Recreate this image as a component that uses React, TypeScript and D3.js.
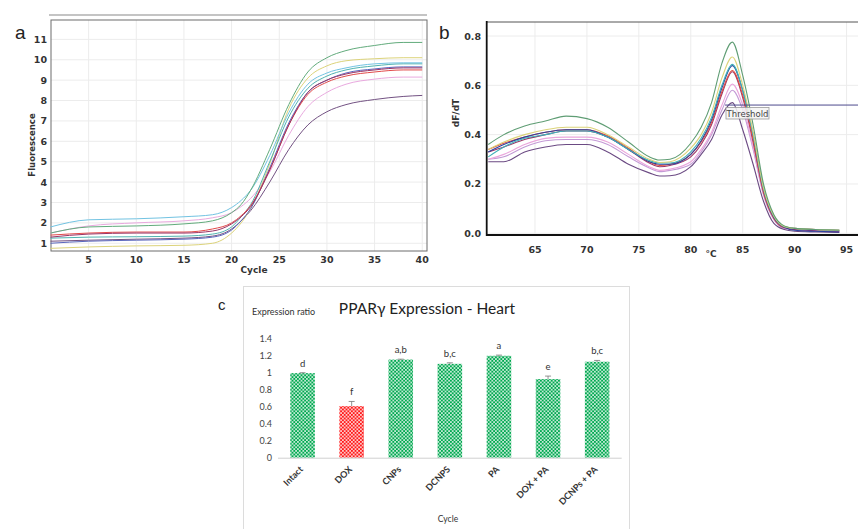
import * as React from "react";
import * as d3 from "d3";

// panel a: amplification curves
const cycles = [1, 5, 10, 15, 18, 20, 21, 22, 24, 26, 28, 30, 32, 35, 38, 40];
const ampGreen = [1.5, 1.8, 1.85, 1.95, 2.1, 2.5, 2.9, 3.6, 5.6, 7.8, 9.4, 10.1, 10.45, 10.7, 10.85, 10.85];
const ampYellow = [0.75, 0.82, 0.87, 0.9, 1.0, 1.5, 2.0, 2.7, 4.9, 7.6, 9.1, 9.7, 9.95, 10.05, 10.1, 10.1];
const ampLightBlue = [1.8, 2.15, 2.2, 2.3, 2.4, 2.75, 3.1, 3.6, 5.3, 7.4, 8.8, 9.35, 9.6, 9.8, 9.85, 9.85];
const ampTeal = [1.25, 1.3, 1.32, 1.35, 1.45, 1.8, 2.3, 2.9, 5.0, 7.2, 8.6, 9.2, 9.5, 9.7, 9.8, 9.8];
const ampBlue = [1.0, 1.1, 1.15, 1.2, 1.3, 1.65, 2.1, 2.7, 4.7, 6.9, 8.4, 9.0, 9.35, 9.55, 9.65, 9.65];
const ampMagenta = [1.3, 1.45, 1.5, 1.5, 1.6, 1.95, 2.3, 2.8, 4.6, 6.8, 8.4, 9.0, 9.3, 9.5, 9.6, 9.6];
const ampRed = [1.4, 1.5, 1.55, 1.55, 1.7, 2.0, 2.35, 2.85, 4.6, 6.8, 8.3, 8.9, 9.2, 9.4, 9.5, 9.5];
const ampPink = [1.5, 1.85, 2.0, 2.1, 2.25, 2.5, 2.8, 3.2, 4.5, 6.3, 7.7, 8.4, 8.8, 9.05, 9.15, 9.15];
const ampPurple = [1.1, 1.15, 1.2, 1.25, 1.35, 1.7, 2.1, 2.6, 4.0, 5.6, 6.8, 7.45, 7.8, 8.05, 8.2, 8.25];
const ampTicksX = [5, 10, 15, 20, 25, 30, 35, 40];
const ampTicksY = [1, 2, 3, 4, 5, 6, 7, 8, 9, 10, 11];

// panel b: melt curves
const temps = [60.5, 62, 64, 66, 68, 70, 72, 74, 76, 77, 78, 80, 81, 82, 83, 84, 85, 86, 87, 88, 89, 90, 92, 94.3];
const meltGreen = [0.36, 0.4, 0.435, 0.455, 0.475, 0.465, 0.43, 0.37, 0.31, 0.297, 0.3, 0.365, 0.43, 0.53, 0.69, 0.775, 0.64, 0.44, 0.2, 0.075, 0.03, 0.02, 0.015, 0.012];
const meltYellow = [0.34, 0.37, 0.4, 0.42, 0.43, 0.43, 0.4, 0.35, 0.3, 0.287, 0.29, 0.345, 0.4, 0.49, 0.63, 0.715, 0.6, 0.41, 0.185, 0.07, 0.028, 0.02, 0.015, 0.012];
const meltTeal = [0.31, 0.35, 0.385, 0.4, 0.415, 0.415, 0.39, 0.34, 0.295, 0.285, 0.285, 0.33, 0.385, 0.47, 0.6, 0.685, 0.58, 0.4, 0.18, 0.068, 0.027, 0.02, 0.015, 0.012];
const meltBlue = [0.33, 0.36, 0.39, 0.41, 0.42, 0.42, 0.39, 0.34, 0.29, 0.28, 0.28, 0.32, 0.375, 0.46, 0.59, 0.68, 0.58, 0.4, 0.18, 0.065, 0.025, 0.012, 0.008, 0.005];
const meltRed = [0.34, 0.365, 0.39, 0.41, 0.42, 0.42, 0.395, 0.345, 0.29, 0.275, 0.28, 0.32, 0.37, 0.45, 0.575, 0.66, 0.56, 0.38, 0.17, 0.062, 0.025, 0.02, 0.015, 0.012];
const meltMagenta = [0.33, 0.35, 0.38, 0.4, 0.415, 0.415, 0.39, 0.34, 0.285, 0.27, 0.275, 0.31, 0.36, 0.44, 0.565, 0.655, 0.55, 0.37, 0.165, 0.06, 0.022, 0.015, 0.01, 0.008];
const meltPink = [0.3, 0.32, 0.36, 0.385, 0.39, 0.39, 0.37, 0.32, 0.27, 0.255, 0.26, 0.29, 0.34, 0.41, 0.52, 0.605, 0.52, 0.35, 0.16, 0.058, 0.022, 0.015, 0.01, 0.008];
const meltLilac = [0.3, 0.31, 0.35, 0.375, 0.38, 0.38, 0.36, 0.31, 0.265, 0.25, 0.255, 0.28, 0.33, 0.4, 0.5, 0.58, 0.5, 0.34, 0.155, 0.055, 0.02, 0.015, 0.01, 0.008];
const meltPurple = [0.29, 0.29, 0.33, 0.35, 0.36, 0.36, 0.33, 0.28, 0.245, 0.232, 0.233, 0.27, 0.32, 0.38, 0.48, 0.53, 0.42, 0.28, 0.13, 0.04, 0.015, 0.008, 0.005, 0.003];
const meltTicksX = [65, 70, 75, 80, 85, 90, 95];
const meltTicksY = [0, 0.2, 0.4, 0.6, 0.8];
const threshold = 0.52;

// panel c: expression ratio
const groups = ["Intact", "DOX", "CNPs", "DCNPS", "PA", "DOX + PA", "DCNPs + PA"];
const ratios = [1.0, 0.61, 1.16, 1.11, 1.205, 0.93, 1.135];
const ratioErr = [0.005, 0.055, 0.005, 0.012, 0.008, 0.035, 0.015];
const sigLetters = ["d", "f", "a,b", "b,c", "a", "e", "b,c"];
const ratioTicks = [0, 0.2, 0.4, 0.6, 0.8, 1, 1.2, 1.4];

const ampSeries = [
  { v: ampPink, c: "#e9a9df" },
  { v: ampPurple, c: "#735283" },
  { v: ampYellow, c: "#dcd37a" },
  { v: ampTeal, c: "#4fb3b0" },
  { v: ampBlue, c: "#5a67bd" },
  { v: ampRed, c: "#e24a4a" },
  { v: ampMagenta, c: "#9a3466" },
  { v: ampLightBlue, c: "#72c3e2" },
  { v: ampGreen, c: "#62ab7c" },
];

const meltSeries = [
  { v: meltLilac, c: "#c49ad6" },
  { v: meltPink, c: "#eaa6dc" },
  { v: meltPurple, c: "#6b4a83" },
  { v: meltMagenta, c: "#9a3466" },
  { v: meltRed, c: "#df4d3e" },
  { v: meltBlue, c: "#2c43a0" },
  { v: meltTeal, c: "#3fb0b8" },
  { v: meltYellow, c: "#dcd37a" },
  { v: meltGreen, c: "#5f9d74" },
];

const tickFont = "'DejaVu Sans', Verdana, sans-serif";
const cFont = "Lato, 'Open Sans', sans-serif";

function PanelA() {
  const x = d3.scaleLinear().domain([1, 40.5]).range([50.5, 427]);
  const y = d3.scaleLinear().domain([0.62, 11.95]).range([251, 20]);
  const line = d3.line<number>().x((_, i) => x(cycles[i])).y(d => y(d)).curve(d3.curveMonotoneX);
  return (
    <g>
      <line x1={49} x2={427} y1={15} y2={15} stroke="#c4c4c4" strokeWidth={2} />
      {ampTicksX.map(t => (
        <line key={"gx" + t} x1={x(t)} x2={x(t)} y1={20} y2={251} stroke="#ececec" />
      ))}
      {ampTicksY.map(t => (
        <line key={"gy" + t} x1={51} x2={427} y1={y(t)} y2={y(t)} stroke="#ececec" />
      ))}
      <rect x={51} y={20} width={376} height={231} fill="none" stroke="#6d6d6d" strokeWidth={1} />
      {ampSeries.map((s, i) => (
        <path key={i} d={line(s.v) || ""} fill="none" stroke={s.c} strokeWidth={1} />
      ))}
      {ampTicksY.map(t => (
        <text key={"ty" + t} x={47} y={y(t) + 3.5} textAnchor="end" fontSize={9.5} fontWeight="bold" fill="#333" fontFamily={tickFont}>{t}</text>
      ))}
      {ampTicksX.map(t => (
        <text key={"tx" + t} x={x(t)} y={263} textAnchor="middle" fontSize={9.5} fontWeight="bold" fill="#333" fontFamily={tickFont}>{t}</text>
      ))}
      <text x={254} y={273} textAnchor="middle" fontSize={9} fontWeight="bold" fill="#333" fontFamily={tickFont}>Cycle</text>
      <text transform="translate(35,145) rotate(-90)" textAnchor="middle" fontSize={8.5} fontWeight="bold" fill="#333" fontFamily={tickFont}>Fluorescence</text>
      <text x={15} y={39} fontSize={19} fill="#222" fontFamily="'Liberation Sans', Arial, sans-serif">a</text>
    </g>
  );
}

function PanelB() {
  const x = d3.scaleLinear().domain([60.35, 96.1]).range([486.7, 858]);
  const y = d3.scaleLinear().domain([-0.007, 0.858]).range([235, 21.7]);
  const line = d3.line<number>().x((_, i) => x(temps[i])).y(d => y(d)).curve(d3.curveMonotoneX);
  return (
    <g>
      {meltTicksX.map(t => (
        <line key={"gx" + t} x1={x(t)} x2={x(t)} y1={22} y2={235} stroke="#ececec" />
      ))}
      {meltTicksY.map(t => (
        <line key={"gy" + t} x1={487} x2={858} y1={y(t)} y2={y(t)} stroke="#ececec" />
      ))}
      <line x1={487} x2={858} y1={22} y2={22} stroke="#555" strokeWidth={1} />
      {meltSeries.map((s, i) => (
        <path key={i} d={line(s.v) || ""} fill="none" stroke={s.c} strokeWidth={1.1} />
      ))}
      <line x1={x(83.3)} x2={858} y1={y(threshold)} y2={y(threshold)} stroke="#4d4a8c" strokeWidth={1} />
      <rect x={726} y={107.5} width={43} height={11.5} fill="#f4f4f4" fillOpacity={0.85} stroke="#9a9a9a" strokeWidth={0.8} />
      <text x={747.5} y={116.5} textAnchor="middle" fontSize={8.5} fill="#444" fontFamily={tickFont}>Threshold</text>
      <line x1={486.7} x2={486.7} y1={21} y2={236} stroke="#111" strokeWidth={1.8} />
      <line x1={486} x2={858} y1={235} y2={235} stroke="#111" strokeWidth={1.8} />
      {meltTicksY.map(t => (
        <text key={"ty" + t} x={481} y={y(t) + 3.5} textAnchor="end" fontSize={9.5} fontWeight="bold" fill="#333" fontFamily={tickFont}>{t.toFixed(1)}</text>
      ))}
      {meltTicksX.map(t => (
        <text key={"tx" + t} x={x(t)} y={253} textAnchor="middle" fontSize={9.5} fontWeight="bold" fill="#333" fontFamily={tickFont}>{t}</text>
      ))}
      <text x={711} y={257} textAnchor="middle" fontSize={9} fontWeight="bold" fill="#333" fontFamily={tickFont}>°C</text>
      <text transform="translate(459,113) rotate(-90)" textAnchor="middle" fontSize={9} fontWeight="bold" fill="#333" fontFamily={tickFont}>dF/dT</text>
      <text x={439} y={39} fontSize={19} fill="#222" fontFamily="'Liberation Sans', Arial, sans-serif">b</text>
    </g>
  );
}

function PanelC() {
  const x = d3.scaleBand<string>().domain(groups).range([278, 621.7]).paddingInner(0.5).paddingOuter(0.25);
  const y = d3.scaleLinear().domain([0, 1.4]).range([457.7, 339.3]);
  return (
    <g>
      <defs>
        <pattern id="dotsGreen" width={3.6} height={3.6} patternUnits="userSpaceOnUse">
          <rect width={3.6} height={3.6} fill="#00a84f" />
          <circle cx={0.9} cy={0.9} r={0.9} fill="#fff" />
          <circle cx={2.7} cy={2.7} r={0.9} fill="#fff" />
        </pattern>
        <pattern id="dotsRed" width={3.6} height={3.6} patternUnits="userSpaceOnUse">
          <rect width={3.6} height={3.6} fill="#ff1a1a" />
          <circle cx={0.9} cy={0.9} r={0.9} fill="#fff" />
          <circle cx={2.7} cy={2.7} r={0.9} fill="#fff" />
        </pattern>
      </defs>
      <rect x={243.5} y={286.5} width={386} height={250} fill="#fff" stroke="#dcdcdc" strokeWidth={1} />
      <text x={218} y={310} fontSize={15} fill="#222" fontFamily="'Liberation Sans', Arial, sans-serif">c</text>
      <text x={427} y={314} textAnchor="middle" fontSize={15.5} fill="#222" fontFamily={cFont}>PPARγ Expression - Heart</text>
      <text x={252} y={315} fontSize={9} fill="#333" fontFamily={cFont}>Expression ratio</text>
      {ratioTicks.map(t => (
        <text key={"ty" + t} x={272} y={y(t) + 3} textAnchor="end" fontSize={9} fill="#444" fontFamily={cFont}>{t}</text>
      ))}
      {groups.map((g, i) => {
        const bx = x(g) || 0;
        const top = y(ratios[i] + ratioErr[i]);
        const cx = bx + x.bandwidth() / 2;
        return (
          <g key={g}>
            <rect x={bx} y={y(ratios[i])} width={x.bandwidth()} height={y(0) - y(ratios[i])} fill={g === "DOX" ? "url(#dotsRed)" : "url(#dotsGreen)"} />
            <line x1={cx} x2={cx} y1={y(ratios[i])} y2={top} stroke="#777" strokeWidth={0.8} />
            <line x1={cx - 3} x2={cx + 3} y1={top} y2={top} stroke="#777" strokeWidth={0.8} />
            <text x={cx} y={top - 6} textAnchor="middle" fontSize={9.5} fill="#333" fontFamily={cFont}>{sigLetters[i]}</text>
            <text transform={`translate(${cx + 1},${470}) rotate(-45)`} textAnchor="end" fontSize={9} fontWeight="bold" fill="#333" fontFamily={cFont}>{g}</text>
          </g>
        );
      })}
      <line x1={278} x2={621.7} y1={y(0) + 0.5} y2={y(0) + 0.5} stroke="#d0d0d0" strokeWidth={1} />
      <text x={448} y={522} textAnchor="middle" fontSize={8.5} fill="#333" fontFamily={cFont}>Cycle</text>
    </g>
  );
}

export default function App() {
  return (
    <svg width={858} height={529} style={{ position: "absolute", left: 0, top: 0, background: "#fff" }}>
      <rect width={858} height={529} fill="#fff" />
      <PanelA />
      <PanelB />
      <PanelC />
    </svg>
  );
}
